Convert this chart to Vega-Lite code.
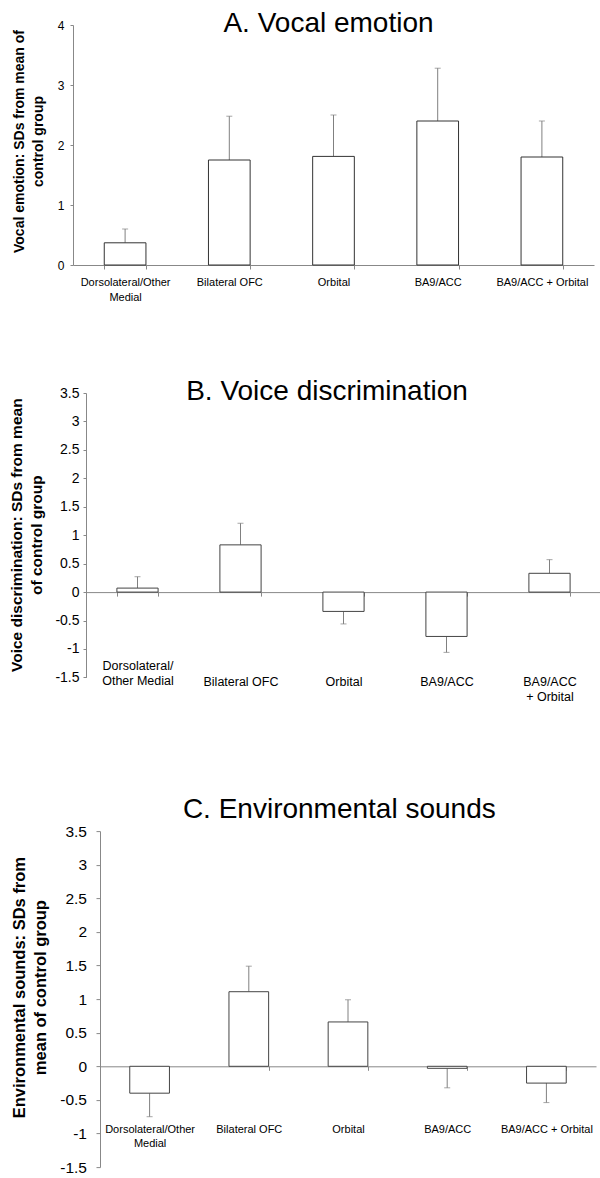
{
  "$schema": "https://vega.github.io/schema/vega-lite/v6.json",
  "background": "white",
  "padding": {"left": 9, "top": 10, "right": 0, "bottom": 0},
  "config": {
    "font": "Liberation Sans",
    "view": {"stroke": null},
    "axis": {
      "domainColor": "#888888",
      "tickColor": "#888888",
      "labelColor": "#000000",
      "titleColor": "#000000",
      "grid": false,
      "labelFont": "Liberation Sans",
      "titleFont": "Liberation Sans"
    },
    "title": {"font": "Liberation Sans", "fontWeight": "normal", "color": "#000000"}
  },
  "datasets": {
    "A": [
      {"region": "Dorsolateral/Other Medial", "value": 0.37, "err": 0.6},
      {"region": "Bilateral OFC", "value": 1.75, "err": 2.48},
      {"region": "Orbital", "value": 1.81, "err": 2.5},
      {"region": "BA9/ACC", "value": 2.4, "err": 3.28},
      {"region": "BA9/ACC + Orbital", "value": 1.8, "err": 2.4}
    ],
    "B": [
      {"region": "Dorsolateral/Other Medial", "value": 0.07, "err": 0.27},
      {"region": "Bilateral OFC", "value": 0.83, "err": 1.21},
      {"region": "Orbital", "value": -0.34, "err": -0.56},
      {"region": "BA9/ACC", "value": -0.78, "err": -1.06},
      {"region": "BA9/ACC + Orbital", "value": 0.33, "err": 0.57}
    ],
    "C": [
      {"region": "Dorsolateral/Other Medial", "value": -0.4, "err": -0.75},
      {"region": "Bilateral OFC", "value": 1.11, "err": 1.49},
      {"region": "Orbital", "value": 0.66, "err": 0.99},
      {"region": "BA9/ACC", "value": -0.03, "err": -0.32},
      {"region": "BA9/ACC + Orbital", "value": -0.25, "err": -0.54}
    ]
  },
  "columns": 1,
  "align": "none",
  "spacing": 76,
  "concat": [
    {
      "width": 521,
      "height": 240,
      "title": {"text": "A. Vocal emotion", "fontSize": 28, "anchor": "middle", "frame": "group", "dx": -5, "offset": -41.3, "baseline": "alphabetic"},
      "data": {"name": "A"},
      "encoding": {
        "x": {
          "field": "region", "type": "nominal",
          "sort": ["Dorsolateral/Other Medial", "Bilateral OFC", "Orbital", "BA9/ACC", "BA9/ACC + Orbital"],
          "scale": {"paddingInner": 0.6, "paddingOuter": 0.3, "range": [0, 521]},
          "axis": {
            "title": null, "labelAngle": 0, "tickBand": "extent", "tickSize": 4,
            "labelFontSize": 11, "labelPadding": 7, "labelLineHeight": 15, "labelBaseline": "top",
            "labelExpr": "datum.value == 'Dorsolateral/Other Medial' ? ['Dorsolateral/Other', 'Medial'] : datum.value"
          }
        }
      },
      "layer": [
        {
          "mark": {"type": "rule", "color": "#808080", "strokeWidth": 1},
          "encoding": {
            "y": {"field": "value", "type": "quantitative", "scale": {"domain": [0, 4]},
              "axis": {
                "title": ["Vocal emotion: SDs from mean of", "control group"],
                "titleFontSize": 14, "titleFontWeight": "bold", "titleLineHeight": 19.2,
                "titleX": -53.7, "titleY": 116, "titleAngle": 270, "titleBaseline": "middle", "titleAlign": "center",
                "values": [0, 1, 2, 3, 4], "tickCount": 20, "labelExpr": "'' + datum.value", "labelOverlap": false,
                "labelFontSize": 12, "tickSize": 3, "labelPadding": 6
              }
            },
            "y2": {"field": "err"}
          }
        },
        {
          "mark": {"type": "tick", "color": "#808080", "size": 6, "thickness": 1, "orient": "horizontal"},
          "encoding": {"y": {"field": "err", "type": "quantitative"}}
        },
        {
          "mark": {"type": "bar", "fill": "white", "stroke": "#333333", "strokeWidth": 1},
          "encoding": {"y": {"field": "value", "type": "quantitative"}}
        }
      ]
    },
    {
      "columns": 1,
      "align": "none",
      "spacing": 92.1,
      "concat": [
        {
          "width": 528,
          "height": 284.4,
          "title": {"text": "B. Voice discrimination", "fontSize": 28, "anchor": "middle", "frame": "group", "dx": -10, "offset": -42.4, "baseline": "alphabetic"},
          "data": {"name": "B"},
          "encoding": {
            "x": {
              "field": "region", "type": "nominal",
              "sort": ["Dorsolateral/Other Medial", "Bilateral OFC", "Orbital", "BA9/ACC", "BA9/ACC + Orbital"],
              "scale": {"paddingInner": 0.6, "paddingOuter": 0.3, "range": [13, 528]},
              "axis": {
                "title": null, "labelAngle": 0, "tickBand": "extent", "tickSize": 4, "offset": -85.3,
                "labelFontSize": 12.5, "labelLineHeight": 15, "labelBaseline": "top",
                "labelPadding": {"condition": {"test": "datum.value == 'Dorsolateral/Other Medial'", "value": 63}, "value": 79},
                "labelExpr": "datum.value == 'Dorsolateral/Other Medial' ? ['Dorsolateral/', 'Other Medial'] : datum.value == 'BA9/ACC + Orbital' ? ['BA9/ACC', '+ Orbital'] : datum.value"
              }
            }
          },
          "layer": [
            {
              "mark": {"type": "rule", "color": "#808080", "strokeWidth": 1},
              "encoding": {
                "y": {"field": "value", "type": "quantitative", "scale": {"domain": [-1.5, 3.5]},
                  "axis": {
                    "title": ["Voice discrimination: SDs from mean", "of control group"],
                    "titleFontSize": 15.5, "titleFontWeight": "bold", "titleLineHeight": 20,
                    "titleX": -69.3, "titleY": 141.7, "titleAngle": 270, "titleBaseline": "middle", "titleAlign": "center",
                    "offset": -13,
                    "values": [-1.5, -1, -0.5, 0, 0.5, 1, 1.5, 2, 2.5, 3, 3.5], "tickCount": 20, "labelExpr": "'' + datum.value", "labelOverlap": false,
                    "labelFontSize": 14, "tickSize": 3, "labelPadding": 4
                  }
                },
                "y2": {"field": "err"}
              }
            },
            {
              "mark": {"type": "tick", "color": "#808080", "size": 6, "thickness": 1, "orient": "horizontal"},
              "encoding": {"y": {"field": "err", "type": "quantitative"}}
            },
            {
              "mark": {"type": "bar", "fill": "white", "stroke": "#444444", "strokeWidth": 1},
              "encoding": {"y": {"field": "value", "type": "quantitative"}}
            }
          ]
        },
        {
          "width": 523,
          "height": 336,
          "title": {"text": "C. Environmental sounds", "fontSize": 28, "anchor": "middle", "frame": "group", "dx": 4.8, "offset": -21.6, "baseline": "alphabetic"},
          "data": {"name": "C"},
          "encoding": {
            "x": {
              "field": "region", "type": "nominal",
              "sort": ["Dorsolateral/Other Medial", "Bilateral OFC", "Orbital", "BA9/ACC", "BA9/ACC + Orbital"],
              "scale": {"paddingInner": 0.6, "paddingOuter": 0.3, "range": [27, 523]},
              "axis": {
                "title": null, "labelAngle": 0, "tickBand": "extent", "tickSize": 4, "offset": -100.8,
                "labelFontSize": 11, "labelLineHeight": 14, "labelBaseline": "top", "labelPadding": 53,
                "labelExpr": "datum.value == 'Dorsolateral/Other Medial' ? ['Dorsolateral/Other', 'Medial'] : datum.value"
              }
            }
          },
          "layer": [
            {
              "mark": {"type": "rule", "color": "#808080", "strokeWidth": 1},
              "encoding": {
                "y": {"field": "value", "type": "quantitative", "scale": {"domain": [-1.5, 3.5]},
                  "axis": {
                    "title": ["Environmental sounds: SDs from", "mean of control group"],
                    "titleFontSize": 16.5, "titleFontWeight": "bold", "titleLineHeight": 21.2,
                    "titleX": -80.2, "titleY": 156, "titleAngle": 270, "titleBaseline": "middle", "titleAlign": "center",
                    "offset": -27,
                    "values": [-1.5, -1, -0.5, 0, 0.5, 1, 1.5, 2, 2.5, 3, 3.5], "tickCount": 20, "labelExpr": "'' + datum.value", "labelOverlap": false,
                    "labelFontSize": 15.5, "tickSize": 4, "labelPadding": 9.5
                  }
                },
                "y2": {"field": "err"}
              }
            },
            {
              "mark": {"type": "tick", "color": "#808080", "size": 6, "thickness": 1, "orient": "horizontal"},
              "encoding": {"y": {"field": "err", "type": "quantitative"}}
            },
            {
              "mark": {"type": "bar", "fill": "white", "stroke": "#444444", "strokeWidth": 1},
              "encoding": {"y": {"field": "value", "type": "quantitative"}}
            }
          ]
        }
      ]
    }
  ]
}
